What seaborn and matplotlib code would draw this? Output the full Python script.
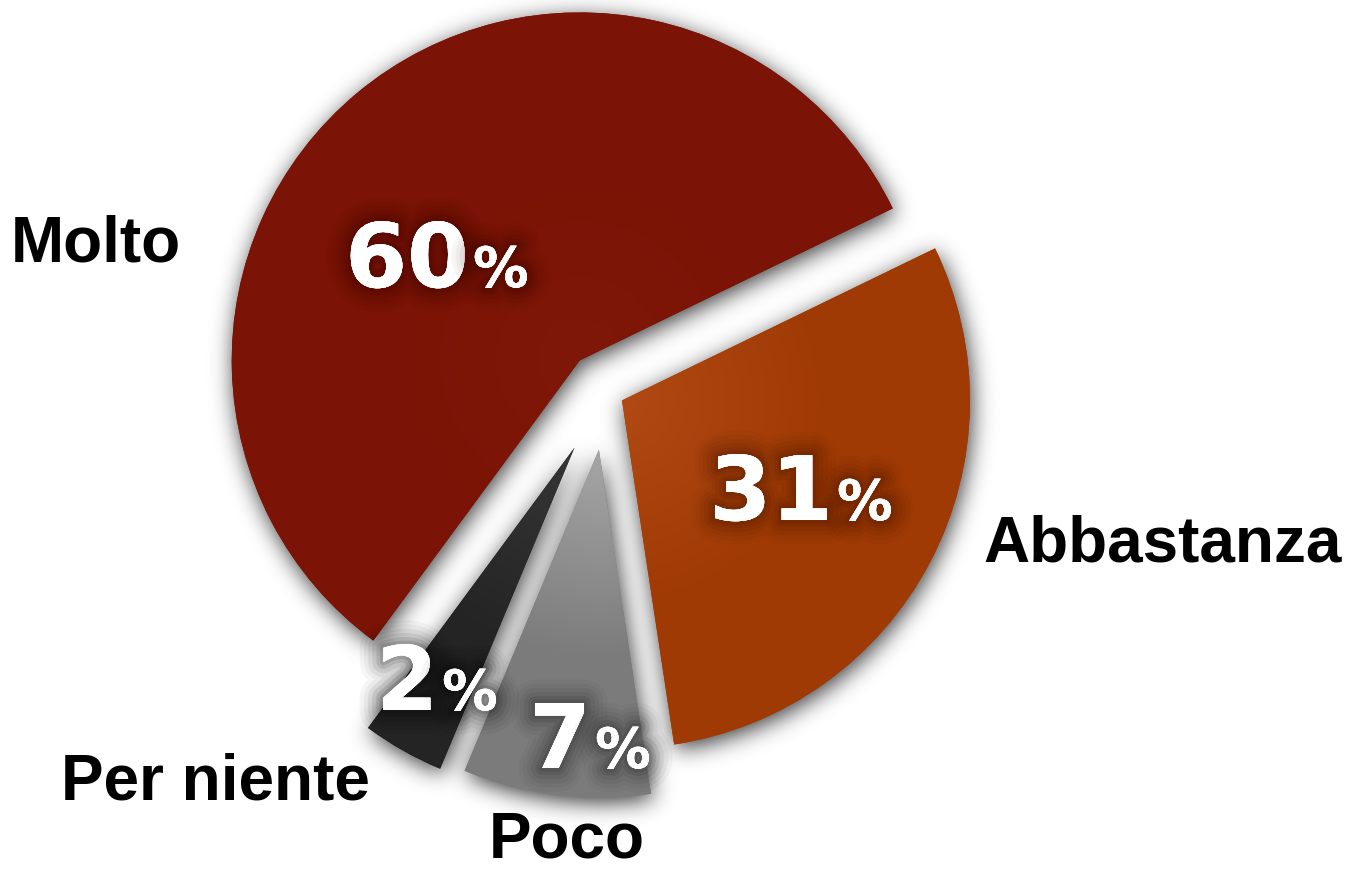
import numpy as np
import matplotlib.pyplot as plt
import seaborn as sns
from matplotlib import patheffects as pe
from matplotlib.colors import to_rgb

sns.set_theme(style="white")

# Data (clockwise from the upper right)
labels = ['Abbastanza', 'Poco', 'Per niente', 'Molto']
pct_labels = [31, 7, 2, 60]
# slice sizes as drawn in the picture (angles)
shares = [29.8, 8.7, 3.8, 57.7]
explode = [0.052, 0.167, 0.184, 0.118]

# Styles
colors = ['#a03a04', '#7b7b7b', '#242424', '#7b1306']
inner_colors = ['#b04914', '#a6a6a6', '#363636', '#801809']
glow_colors = ['#3a1000', '#161616', '#000000', '#300300']

W, H = 1347, 872
R_PX = 348.0
CX, CY = 606, 392


def px(x, y):
    # pixel position -> data coordinates (pie radius = 1)
    return (x - CX) / R_PX, (CY - y) / R_PX


fig = plt.figure(figsize=(W / 100, H / 100), dpi=100)
ax = fig.add_axes([0, 0, 1, 1])

wedges, _ = ax.pie(shares, explode=explode, colors=colors, startangle=25.9,
                   counterclock=False, radius=1,
                   wedgeprops=dict(linewidth=0, zorder=3))

x0, y1 = px(0, 0)
x1, y0 = px(W, H)
extent = (x0, x1, y0, y1)

# pixel grid in data coords
xs = x0 + (np.arange(W) + 0.5) / R_PX
ys = y1 - (np.arange(H) + 0.5) / R_PX
X, Y = np.meshgrid(xs, ys)

# soft drop shadow under all slices
mask = np.zeros((H, W))
off_x, off_y = 2 / R_PX, -5 / R_PX
for w in wedges:
    cx, cy = w.center
    dx, dy = X - cx - off_x, Y - cy - off_y
    rr = np.hypot(dx, dy)
    ang = np.degrees(np.arctan2(dy, dx)) % 360
    inside = (rr <= w.r) & (((ang - w.theta1) % 360) <= (w.theta2 - w.theta1))
    mask[inside] = 1.0

sig = 11
k = np.exp(-0.5 * (np.arange(-3 * sig, 3 * sig + 1) / sig) ** 2)
k /= k.sum()
blur = np.apply_along_axis(lambda m: np.convolve(m, k, mode='same'), 1, mask)
blur = np.apply_along_axis(lambda m: np.convolve(m, k, mode='same'), 0, blur)
shadow = np.zeros((H, W, 4))
shadow[..., :3] = 0.1
shadow[..., 3] = np.clip(blur * 0.85, 0, 1)
ax.imshow(shadow, extent=extent, origin='upper', zorder=1, interpolation='bilinear')

# radial shading inside each slice, lighter near the tip
for w, c_in, c_out in zip(wedges, inner_colors, colors):
    cx, cy = w.center
    t = np.clip(np.hypot(X - cx, Y - cy) / (0.6 * w.r), 0, 1)[..., None]
    a, b = np.array(to_rgb(c_in)), np.array(to_rgb(c_out))
    img = a + (b - a) * t
    im = ax.imshow(img, extent=extent, origin='upper', zorder=3.2, interpolation='bilinear')
    im.set_clip_path(w)

# percentage labels: (group centre x, baseline y) in pixels
pct_pos = [(801, 520), (590, 768), (437, 710), (437, 287)]
num_size, pct_size = 64, 40
digit_w = 0.696 * num_size * 100 / 72
pct_w = 1.002 * pct_size * 100 / 72
gap = 4
glow_steps = [(34, 0.035), (28, 0.045), (22, 0.06), (16, 0.08), (10, 0.1), (5, 0.12)]
for v, (gx, gy), g in zip(pct_labels, pct_pos, glow_colors):
    s = str(v)
    wn = digit_w * len(s)
    total = wn + gap + pct_w
    xr = gx - total / 2 + wn
    effects = [pe.withStroke(linewidth=lw, foreground=g, alpha=al)
               for lw, al in glow_steps] + [pe.Normal()]
    ax.text(*px(xr, gy), s, ha='right', va='baseline', color='white',
            fontsize=num_size, fontweight='heavy', family='DejaVu Sans',
            path_effects=effects, zorder=5)
    ax.text(*px(xr + gap, gy), '%', ha='left', va='baseline', color='white',
            fontsize=pct_size, fontweight='heavy', family='DejaVu Sans',
            path_effects=effects, zorder=5)

# category labels: (left x, baseline y) in pixels
label_pos = [(983, 562), (489, 858), (61, 800), (11, 262)]
for lab, (lx, ly) in zip(labels, label_pos):
    ax.text(*px(lx, ly), lab, ha='left', va='baseline', color='black',
            fontsize=46, fontweight='bold', family='Liberation Sans', zorder=5)

ax.set_xlim(x0, x1)
ax.set_ylim(y0, y1)
ax.set_aspect('equal')
ax.axis('off')

fig.savefig('out.png', dpi=100, facecolor='white')
